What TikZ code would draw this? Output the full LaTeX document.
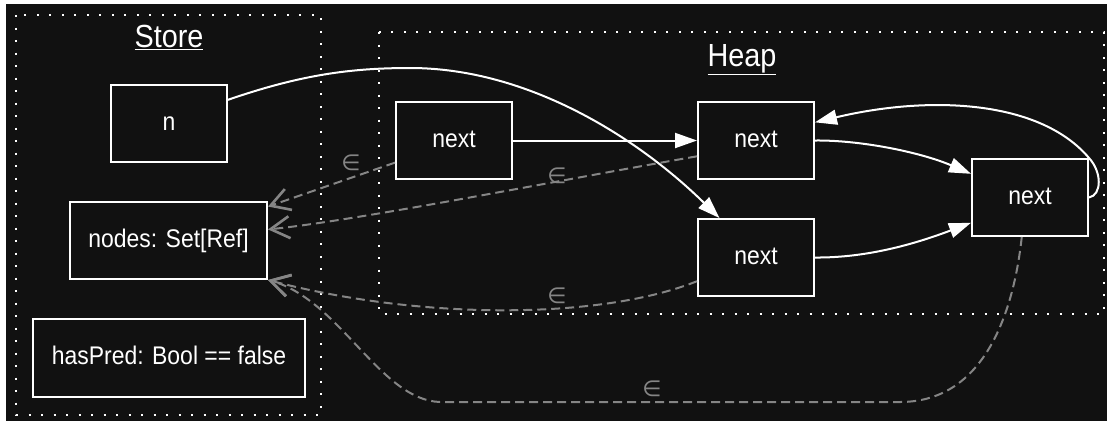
\documentclass[tikz,border=0pt]{standalone}
\usepackage{fontspec}
\setmainfont{Liberation Sans}[FakeStretch=0.9]
\newfontfamily\symfnt{DejaVu Sans}
\usetikzlibrary{arrows.meta,calc}
\definecolor{bg}{HTML}{111111}
\definecolor{dgray}{HTML}{858585}
\begin{document}
\begin{tikzpicture}[x=1pt,y=-1pt,
  box/.style={draw=white, line width=2pt, fill=bg, text=white, inner sep=0pt,
    font=\fontsize{25.5}{29}\selectfont, text height=17pt, text depth=4pt},
  title/.style={text=white, font=\fontsize{32}{36}\selectfont, anchor=base, inner sep=0pt},
  cluster/.style={draw=white, line width=2pt, dash pattern=on 2pt off 10.5pt},
  link/.style={draw=white, line width=2pt, -{Triangle[length=22pt,width=15pt]}},
  member/.style={draw=dgray, line width=2pt, dash pattern=on 9pt off 5pt,
    -{Straight Barb[length=19pt,width=22pt,line width=2.6pt]}},
  elabel/.style={text=dgray, inner sep=0pt, font=\symfnt\fontsize{22}{22}\selectfont}
]
\fill[white] (0,0) rectangle (1107,421);
\fill[bg] (6,4) rectangle (1107,421);
\useasboundingbox (0,0) rectangle (1107,421);

% clusters
\draw[cluster] (16,15) rectangle (321,415);
\draw[cluster] (379,32) rectangle (1104,314);
\node[title] (storeT) at (169,47) {\underline{Store}};
\node[title] (heapT) at (742,66) {\underline{Heap}};

% nodes
\node[box, minimum width=116pt, minimum height=77pt] (n) at (169,123.5) {n};
\node[box, minimum width=197pt, minimum height=77pt] (nodes) at (168.5,240.5) {nodes: Set[Ref]};
\node[box, minimum width=272pt, minimum height=78pt] (hp) at (169,358) {hasPred: Bool == false};
\node[box, minimum width=116pt, minimum height=77pt] (h1) at (454,140.5) {next};
\node[box, minimum width=116pt, minimum height=77pt] (h2) at (756,140.5) {next};
\node[box, minimum width=116pt, minimum height=77pt] (h3) at (756,257.5) {next};
\node[box, minimum width=116pt, minimum height=77pt] (h4) at (1030,197.5) {next};

% membership edges
\draw[member] ($(h1.north west)!.78!(h1.south west)$) -- ($(nodes.north east)!.07!(nodes.south east)$);
\draw[member] ($(h2.north west)!.7!(h2.south west)$) .. controls (560,180) and (360,220) .. ($(nodes.north east)!.36!(nodes.south east)$);
\draw[member] ($(h3.north west)!.8!(h3.south west)$) .. controls (600,320) and (420,320) .. (nodes.south east);
\draw[member] ($(h4.south west)!.43!(h4.south east)$) .. controls (1015,300) and (990,402) .. (900,402)
  -- (440,402) .. controls (380,400) and (340,300) .. (nodes.south east);
\node[elabel] (e1) at (351,163) {∈};
\node[elabel] (e2) at (557,176) {∈};
\node[elabel] (e3) at (557,296) {∈};
\node[elabel] (e4) at (652,389) {∈};

% pointer edges
\draw[link] ($(n.north east)!.2!(n.south east)$) .. controls (300,75) and (350,68) .. (410,68)
  .. controls (530,68) and (640,140) .. ($(h3.north west)!.19!(h3.north east)$);
\draw[link] (h1.east) -- (h2.west);
\draw[link] (h2.east) .. controls (860,140) and (920,152) .. ($(h4.north west)!.2!(h4.south west)$);
\draw[link] (h3.east) .. controls (870,258) and (920,242) .. ($(h4.north west)!.82!(h4.south west)$);
\draw[link] (h4.east) .. controls (1102,195) and (1102,172) .. (h4.north east)
  .. controls (1040,100) and (930,95) .. ($(h2.north east)!.27!(h2.south east)$);
\end{tikzpicture}
\end{document}
